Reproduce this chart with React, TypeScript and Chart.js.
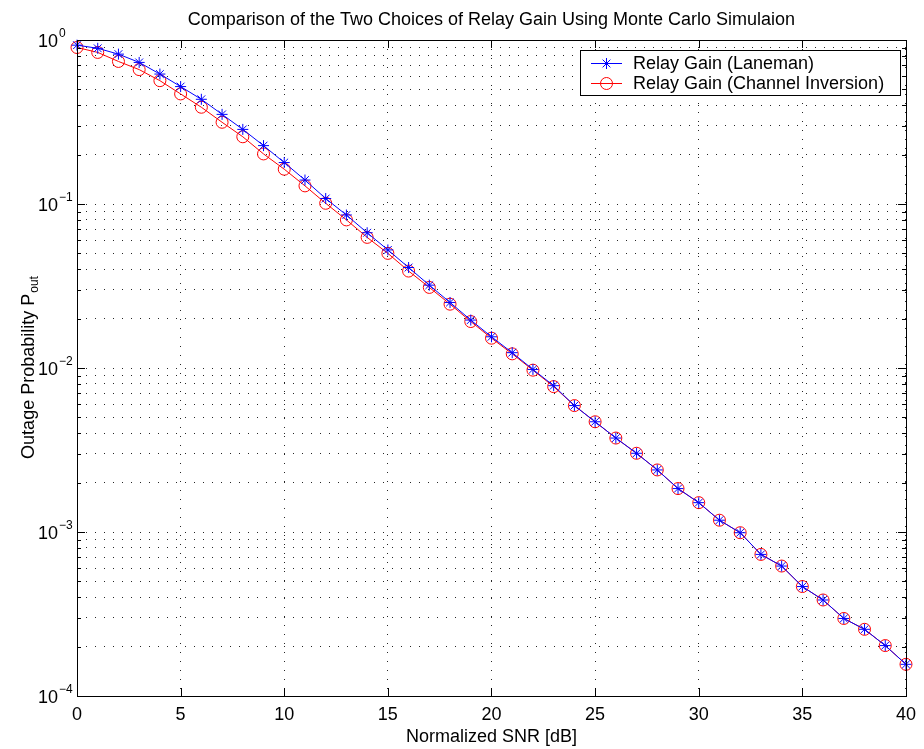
import { useEffect, useRef } from 'react';
import { Chart, registerables } from 'chart.js';

Chart.register(...registerables);

const FONT = '"Liberation Sans", Arial, Helvetica, sans-serif';

const chartTitle = 'Comparison of the Two Choices of Relay Gain Using Monte Carlo Simulaion';
const xAxisLabel = 'Normalized SNR [dB]';
const yAxisLabelMain = 'Outage Probability P';
const yAxisLabelSub = 'out';
const seriesNames = ['Relay Gain (Laneman)', 'Relay Gain (Channel Inversion)'];
const seriesColors = ['#0000ff', '#ff0000'];

const snrDb = [
  0, 1, 2, 3, 4, 5, 6, 7, 8, 9, 10, 11, 12, 13, 14, 15, 16, 17, 18, 19, 20,
  21, 22, 23, 24, 25, 26, 27, 28, 29, 30, 31, 32, 33, 34, 35, 36, 37, 38, 39, 40,
];

const laneman = [
  0.93, 0.89, 0.82, 0.73, 0.62, 0.52, 0.435, 0.352, 0.285, 0.227, 0.179,
  0.14, 0.108, 0.0857, 0.0668, 0.0525, 0.041, 0.032, 0.0251, 0.0196, 0.0155,
  0.0124, 0.0098, 0.0078, 0.0059, 0.0047, 0.00374, 0.00302, 0.00239, 0.00184, 0.00151,
  0.00118, 0.00099, 0.00073, 0.00062, 0.000465, 0.000385, 0.000297, 0.000255, 0.000203, 0.000156,
];

const channelInversion = [
  0.9, 0.84, 0.74, 0.66, 0.565, 0.469, 0.389, 0.315, 0.257, 0.202, 0.163,
  0.129, 0.101, 0.08, 0.0626, 0.05, 0.039, 0.031, 0.0245, 0.0192, 0.0152,
  0.0122, 0.0097, 0.0077, 0.0059, 0.0047, 0.00374, 0.00302, 0.00239, 0.00184, 0.00151,
  0.00118, 0.00099, 0.00073, 0.00062, 0.000465, 0.000385, 0.000297, 0.000255, 0.000203, 0.000156,
];

const xTicks = [0, 5, 10, 15, 20, 25, 30, 35, 40];
const yDecadeExponents = [0, -1, -2, -3, -4];
const yMinorMultipliers = [2, 3, 4, 5, 6, 7, 8, 9];

const GRID_COLOR = 'rgba(0,0,0,0.85)';

function yGridValues(): number[] {
  const vals: number[] = [];
  for (const e of yDecadeExponents) {
    vals.push(Math.pow(10, e));
    if (e > -4) {
      for (const m of yMinorMultipliers) vals.push(m * Math.pow(10, e - 1));
    }
  }
  return vals.sort((a, b) => a - b);
}

function drawStar(ctx: CanvasRenderingContext2D, x: number, y: number, r: number) {
  ctx.beginPath();
  for (let k = 0; k < 4; k++) {
    const a = (k * Math.PI) / 4;
    ctx.moveTo(x - r * Math.cos(a), y - r * Math.sin(a));
    ctx.lineTo(x + r * Math.cos(a), y + r * Math.sin(a));
  }
  ctx.stroke();
}

const decorPlugin = {
  id: 'matlabDecor',
  afterDraw(chart: any) {
    const ctx: CanvasRenderingContext2D = chart.ctx;
    const { left, right, top, bottom } = chart.chartArea;
    const xs = chart.scales.x;
    const ys = chart.scales.y;
    ctx.save();

    // box
    ctx.strokeStyle = '#000';
    ctx.lineWidth = 1;
    ctx.strokeRect(Math.round(left) + 0.5, Math.round(top) + 0.5, Math.round(right - left), Math.round(bottom - top));

    // tick marks
    ctx.beginPath();
    for (const t of xTicks) {
      const px = Math.round(xs.getPixelForValue(t)) + 0.5;
      ctx.moveTo(px, bottom);
      ctx.lineTo(px, bottom - 8);
      ctx.moveTo(px, top);
      ctx.lineTo(px, top + 8);
    }
    for (const v of yGridValues()) {
      const py = Math.round(ys.getPixelForValue(v)) + 0.5;
      const isMajor = Math.abs(Math.log10(v) - Math.round(Math.log10(v))) < 1e-9;
      const len = isMajor ? 8 : 4;
      ctx.moveTo(left, py);
      ctx.lineTo(left + len, py);
      ctx.moveTo(right, py);
      ctx.lineTo(right - len, py);
    }
    ctx.stroke();

    // y tick labels 10^e
    ctx.fillStyle = '#000';
    for (const e of yDecadeExponents) {
      const py = ys.getPixelForValue(Math.pow(10, e));
      ctx.font = `18px ${FONT}`;
      ctx.textAlign = 'right';
      ctx.textBaseline = 'alphabetic';
      ctx.fillText('10', 58, py + 6.5);
      ctx.font = `12px ${FONT}`;
      ctx.textAlign = 'left';
      ctx.fillText(e === 0 ? '0' : '\u2212' + Math.abs(e), 59, py - 3);
    }

    // title
    ctx.font = `18px ${FONT}`;
    ctx.textAlign = 'center';
    ctx.textBaseline = 'alphabetic';
    ctx.fillText(chartTitle, (left + right) / 2, 25);

    // x label
    ctx.fillText(xAxisLabel, (left + right) / 2, 742);

    // y label
    ctx.save();
    ctx.translate(27, (top + bottom) / 2);
    ctx.rotate(-Math.PI / 2);
    ctx.font = `18px ${FONT}`;
    const w1 = ctx.measureText(yAxisLabelMain).width;
    ctx.font = `12px ${FONT}`;
    const w2 = ctx.measureText(yAxisLabelSub).width;
    const start = -(w1 + w2) / 2;
    ctx.textAlign = 'left';
    ctx.font = `18px ${FONT}`;
    ctx.fillText(yAxisLabelMain, start, 6.5);
    ctx.font = `12px ${FONT}`;
    ctx.fillText(yAxisLabelSub, start + w1 + 1, 10.5);
    ctx.restore();

    // legend
    const lx = 580, ly = 50, lw = 320, lh = 45;
    ctx.fillStyle = '#fff';
    ctx.fillRect(lx, ly, lw, lh);
    ctx.strokeStyle = '#000';
    ctx.lineWidth = 1;
    ctx.strokeRect(lx + 0.5, ly + 0.5, lw, lh);
    const rows = [63, 83];
    chart.data.datasets.forEach((ds: any, i: number) => {
      const ry = rows[i] + 0.5;
      ctx.strokeStyle = ds.borderColor;
      ctx.lineWidth = 1;
      ctx.beginPath();
      ctx.moveTo(591, ry);
      ctx.lineTo(622, ry);
      ctx.stroke();
      if (ds.pointStyle === 'star') {
        drawStar(ctx, 606.5, ry, 5.5);
      } else {
        ctx.beginPath();
        ctx.arc(606.5, ry, 6, 0, Math.PI * 2);
        ctx.stroke();
      }
      ctx.fillStyle = '#000';
      ctx.font = `18px ${FONT}`;
      ctx.textAlign = 'left';
      ctx.textBaseline = 'middle';
      ctx.fillText(ds.label, 633, ry + 1);
    });

    ctx.restore();
  },
};

export default function App() {
  const ref = useRef<HTMLCanvasElement>(null);

  useEffect(() => {
    const canvas = ref.current;
    if (!canvas) return;
    const chart = new Chart(canvas, {
      type: 'line',
      data: {
        datasets: [
          {
            label: seriesNames[0],
            data: snrDb.map((x, i) => ({ x, y: laneman[i] })),
            borderColor: seriesColors[0],
            backgroundColor: seriesColors[0],
            borderWidth: 1,
            pointStyle: 'star',
            pointRadius: 5.5,
            pointBorderWidth: 1,
            pointBorderColor: seriesColors[0],
            pointBackgroundColor: seriesColors[0],
            tension: 0,
            clip: 12,
          } as any,
          {
            label: seriesNames[1],
            data: snrDb.map((x, i) => ({ x, y: channelInversion[i] })),
            borderColor: seriesColors[1],
            backgroundColor: 'rgba(0,0,0,0)',
            borderWidth: 1,
            pointStyle: 'circle',
            pointRadius: 6,
            pointBorderWidth: 1,
            pointBorderColor: seriesColors[1],
            pointBackgroundColor: 'rgba(0,0,0,0)',
            tension: 0,
            clip: 12,
          } as any,
        ],
      },
      options: {
        responsive: false,
        animation: false,
        devicePixelRatio: 1,
        events: [],
        layout: { padding: { top: 40, right: 14, left: 0, bottom: 0 } },
        plugins: {
          legend: { display: false },
          title: { display: false },
          tooltip: { enabled: false },
        },
        scales: {
          x: {
            type: 'linear',
            min: 0,
            max: 40,
            afterBuildTicks: (s: any) => {
              s.ticks = xTicks.map((v) => ({ value: v }));
            },
            afterFit: (s: any) => {
              s.height = 53;
            },
            ticks: {
              font: { family: FONT, size: 18 },
              color: '#000',
              padding: 8,
              maxRotation: 0,
              autoSkip: false,
            },
            grid: { color: GRID_COLOR, lineWidth: 1, drawTicks: false },
            border: { display: false, dash: [1, 8] },
          },
          y: {
            type: 'logarithmic',
            min: 1e-4,
            max: 1,
            afterBuildTicks: (s: any) => {
              s.ticks = yGridValues().map((v) => ({ value: v }));
            },
            afterFit: (s: any) => {
              s.width = 77;
            },
            ticks: { display: false },
            grid: { color: GRID_COLOR, lineWidth: 1, drawTicks: false },
            border: { display: false, dash: [1, 8] },
          },
        },
      } as any,
      plugins: [decorPlugin],
    });
    return () => chart.destroy();
  }, []);

  return (
    <div style={{ position: 'absolute', left: 0, top: 0, width: 924, height: 749, background: '#fff' }}>
      <canvas ref={ref} width={924} height={749} style={{ width: 924, height: 749, display: 'block' }} />
    </div>
  );
}
